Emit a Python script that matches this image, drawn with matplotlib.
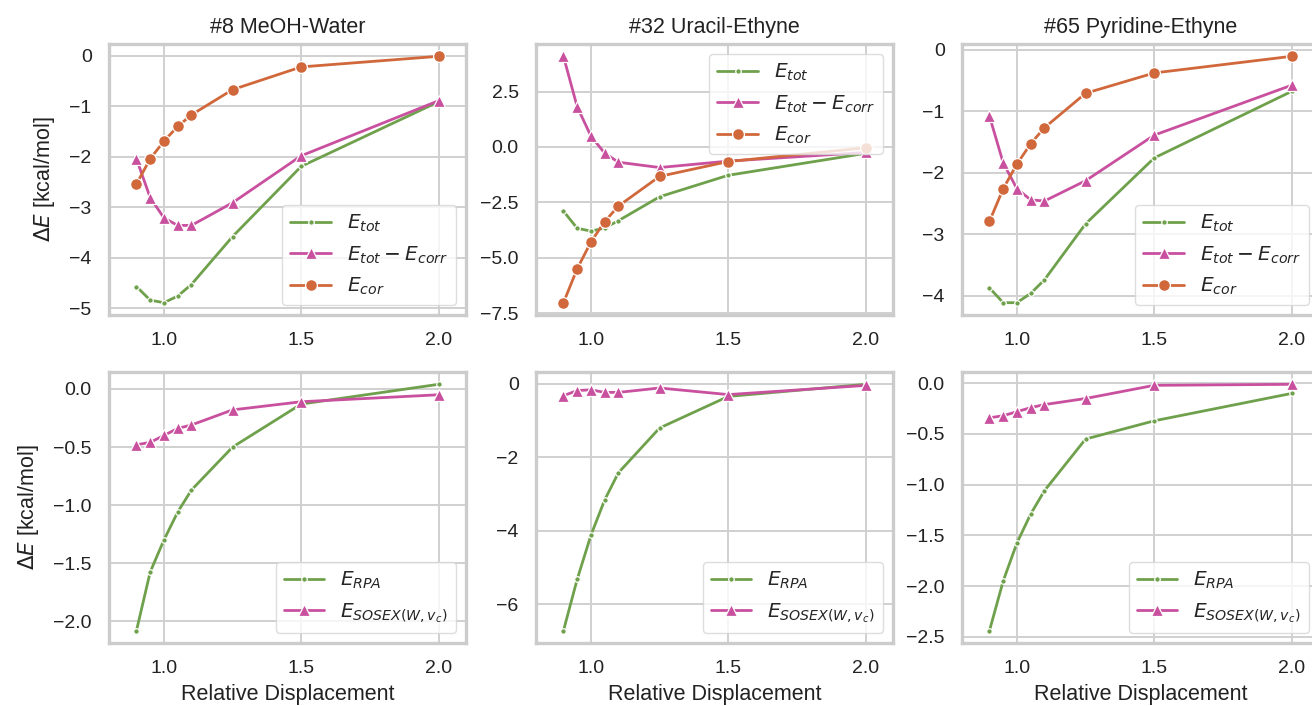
import matplotlib
matplotlib.use("Agg")
import matplotlib.pyplot as plt
import seaborn as sns

sns.set_theme(style="whitegrid")
plt.rcParams["font.family"] = ["Liberation Sans", "DejaVu Sans"]
plt.rcParams["mathtext.fontset"] = "dejavusans"

# --- data ---
displacement = [0.9, 0.95, 1.0, 1.05, 1.1, 1.25, 1.5, 2.0]

titles = ["#8 MeOH-Water", "#32 Uracil-Ethyne", "#65 Pyridine-Ethyne"]

e_tot = [
    [-4.57, -4.84, -4.89, -4.76, -4.53, -3.58, -2.19, -0.91],
    [-2.90, -3.67, -3.80, -3.66, -3.33, -2.25, -1.28, -0.29],
    [-3.87, -4.11, -4.11, -3.96, -3.74, -2.83, -1.76, -0.68],
]
e_tot_minus_corr = [
    [-2.04, -2.81, -3.21, -3.36, -3.36, -2.91, -1.98, -0.89],
    [4.09, 1.81, 0.49, -0.28, -0.69, -0.93, -0.64, -0.25],
    [-1.08, -1.84, -2.26, -2.44, -2.46, -2.13, -1.39, -0.58],
]
e_cor = [
    [-2.54, -2.04, -1.69, -1.40, -1.17, -0.67, -0.22, -0.01],
    [-7.03, -5.50, -4.29, -3.37, -2.67, -1.33, -0.66, -0.04],
    [-2.79, -2.26, -1.86, -1.53, -1.27, -0.71, -0.38, -0.11],
]
e_rpa = [
    [-2.08, -1.575, -1.30, -1.06, -0.87, -0.50, -0.13, 0.04],
    [-6.72, -5.32, -4.12, -3.16, -2.42, -1.20, -0.34, -0.01],
    [-2.44, -1.95, -1.575, -1.29, -1.06, -0.55, -0.37, -0.10],
]
e_sosex = [
    [-0.48, -0.46, -0.40, -0.34, -0.31, -0.18, -0.11, -0.05],
    [-0.32, -0.18, -0.16, -0.23, -0.23, -0.11, -0.29, -0.04],
    [-0.34, -0.32, -0.28, -0.24, -0.21, -0.15, -0.02, -0.01],
]

top_legend_loc = ["lower right", "upper right", "lower right"]

GREEN = "#6fa14c"
PINK = "#c9509f"
ORANGE = "#d1683b"

fig = plt.figure(figsize=(13.12, 7.06), dpi=100)

W, H = 1312, 706
lefts = [109, 536, 962]
ax_w = 357
rows = [(44, 315), (372, 643)]


def style_axes(ax):
    for sp in ax.spines.values():
        sp.set_color("#cccccc")
        sp.set_linewidth(2.4)
    ax.grid(True, color="#d0d0d0", linewidth=1.4)
    ax.tick_params(axis="both", labelsize=14, length=0, pad=12.5, colors="#222222")
    ax.set_xlim(0.8, 2.1)
    ax.set_xticks([1.0, 1.5, 2.0])


line_kw = dict(linewidth=2.0, markeredgecolor="white", markeredgewidth=0.9)

for i in range(3):
    # top row
    top, bot = rows[0]
    ax = fig.add_axes([lefts[i] / W, 1 - bot / H, ax_w / W, (bot - top) / H])
    style_axes(ax)
    ax.plot(displacement, e_tot[i], color=GREEN, marker=".", markersize=8,
            label=r"$E_{tot}$", **line_kw)
    ax.plot(displacement, e_tot_minus_corr[i], color=PINK, marker="^", markersize=8.5,
            label=r"$E_{tot}-E_{corr}$", **line_kw)
    ax.plot(displacement, e_cor[i], color=ORANGE, marker="o", markersize=8.5,
            label=r"$E_{cor}$", **line_kw)
    ax.set_title(titles[i], fontsize=15.5, pad=8, color="#222222")
    ax.legend(loc=top_legend_loc[i], fontsize=14.5, framealpha=0.8,
              edgecolor="#d5d5d5", borderaxespad=0.5)
    if i == 0:
        ax.set_ylabel(r"$\Delta E$ [kcal/mol]", fontsize=15.5, color="#222222", labelpad=9)
        ax.set_yticks([0, -1, -2, -3, -4, -5])
    elif i == 1:
        ax.set_yticks([2.5, 0.0, -2.5, -5.0, -7.5])
    else:
        ax.set_yticks([0, -1, -2, -3, -4])

    # bottom row
    top, bot = rows[1]
    ax = fig.add_axes([lefts[i] / W, 1 - bot / H, ax_w / W, (bot - top) / H])
    style_axes(ax)
    ax.plot(displacement, e_rpa[i], color=GREEN, marker=".", markersize=8,
            label=r"$E_{RPA}$", **line_kw)
    ax.plot(displacement, e_sosex[i], color=PINK, marker="^", markersize=8.5,
            label=r"$E_{SOSEX(W,v_c)}$", **line_kw)
    ax.set_xlabel("Relative Displacement", fontsize=15.5, color="#222222", labelpad=5)
    ax.legend(loc="lower right", fontsize=14.5, framealpha=0.8,
              edgecolor="#d5d5d5", borderaxespad=0.5)
    if i == 0:
        ax.set_ylabel(r"$\Delta E$ [kcal/mol]", fontsize=15.5, color="#222222", labelpad=9)
        ax.set_yticks([0.0, -0.5, -1.0, -1.5, -2.0])
    elif i == 1:
        ax.set_yticks([0, -2, -4, -6])
    else:
        ax.set_yticks([0.0, -0.5, -1.0, -1.5, -2.0, -2.5])

fig.savefig("out.png", dpi=100)
plt.close(fig)
